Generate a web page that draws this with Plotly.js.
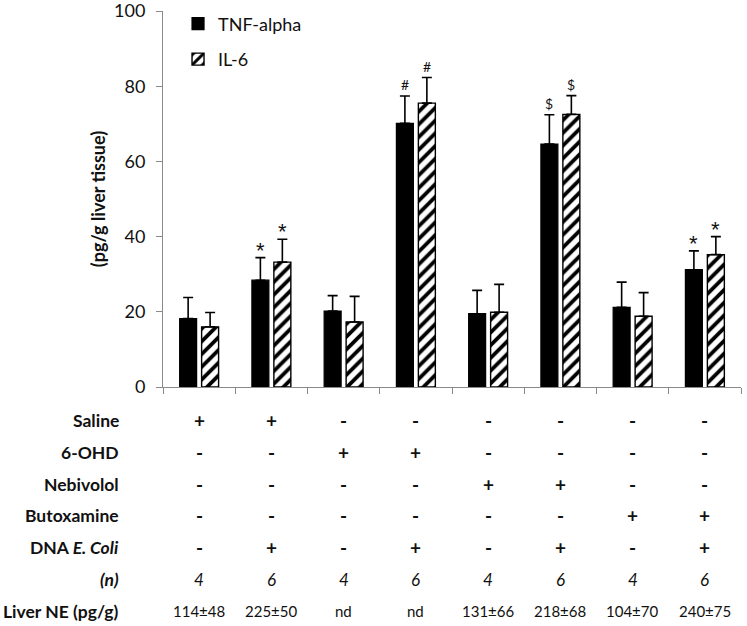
<!DOCTYPE html>
<html>
<head>
<meta charset="utf-8">
<script src="https://cdn.plot.ly/plotly-3.0.1.min.js"></script>
<style>html,body{margin:0;padding:0;background:#fff;}#chart{width:747px;height:626px;}</style>
</head>
<body>
<div id="chart"></div>
<script>
// ---- data ----
var groups = ['Saline', 'Saline + DNA', '6-OHD', '6-OHD + DNA', 'Nebivolol', 'Nebivolol + DNA', 'Butoxamine', 'Butoxamine + DNA'];
var tnfAlpha = [18.2, 28.4, 20.2, 70.1, 19.5, 64.6, 21.2, 31.2];
var tnfErr   = [5.6, 6.0, 4.1, 7.3, 6.2, 7.8, 6.7, 5.0];
var il6      = [16.0, 33.2, 17.3, 75.5, 19.9, 72.5, 18.8, 35.2];
var il6Err   = [3.8, 6.1, 6.8, 6.8, 7.4, 5.0, 6.3, 4.8];
var tnfSig   = ['', '*', '', '#', '', '$', '', '*'];
var il6Sig   = ['', '*', '', '#', '', '$', '', '*'];

var rowLabels = ['Saline', '6-OHD', 'Nebivolol', 'Butoxamine', 'DNA <i>E. Coli</i>', '<i>(n)</i>', 'Liver NE (pg/g)'];
var saline     = ['+', '+', '-', '-', '-', '-', '-', '-'];
var ohd        = ['-', '-', '+', '+', '-', '-', '-', '-'];
var nebivolol  = ['-', '-', '-', '-', '+', '+', '-', '-'];
var butoxamine = ['-', '-', '-', '-', '-', '-', '+', '+'];
var dnaEColi   = ['-', '+', '-', '+', '-', '+', '-', '+'];
var nValues    = ['4', '6', '4', '6', '4', '6', '4', '6'];
var liverNE    = ['114±48', '225±50', 'nd', 'nd', '131±66', '218±68', '104±70', '240±75'];

// ---- layout helpers ----
var FONT = 'Lato, "Open Sans", sans-serif';
var INK = '#111';
var zeros = groups.map(function(){ return 0; });

var traces = [
  {
    type: 'bar', name: 'TNF-alpha', x: groups, y: tnfAlpha, legendgroup: 'a',
    marker: {color: '#000', line: {color: '#000', width: 1.2}},
    error_y: {type: 'data', symmetric: false, array: tnfErr, arrayminus: zeros, color: '#000', thickness: 1.6, width: 5}
  },
  {
    type: 'bar', name: 'IL-6', x: groups, y: il6, legendgroup: 'b',
    marker: {color: '#fff', line: {color: '#000', width: 1.4},
             pattern: {shape: '/', fgcolor: '#000', bgcolor: '#fff', size: 9, solidity: 0.42}},
    error_y: {type: 'data', symmetric: false, array: il6Err, arrayminus: zeros, color: '#000', thickness: 1.6, width: 5}
  }
];

var annotations = [];
var offsetPx = 11;
groups.forEach(function(g, i){
  [[tnfSig, tnfAlpha, tnfErr, -offsetPx], [il6Sig, il6, il6Err, offsetPx]].forEach(function(s){
    var t = s[0][i];
    if (!t) return;
    var isStar = (t === '*');
    annotations.push({
      x: g, y: s[1][i] + s[2][i], xref: 'x', yref: 'y', xshift: s[3], yshift: isStar ? -7 : 1,
      text: t, showarrow: false, xanchor: 'center', yanchor: 'bottom',
      font: {family: isStar ? '"Liberation Sans", Arial, sans-serif' : FONT, size: isStar ? 22 : 14, color: INK}
    });
  });
});

var rows = [saline, ohd, nebivolol, butoxamine, dnaEColi, nValues, liverNE];
var rowStart = -0.0894, rowStep = 0.0845;
rows.forEach(function(r, k){
  var yv = rowStart - k * rowStep;
  annotations.push({
    x: -0.0727, y: yv, xref: 'paper', yref: 'paper', xanchor: 'right', yanchor: 'middle',
    text: '<b>' + rowLabels[k] + '</b>', showarrow: false,
    font: {family: FONT, size: 17.5, color: INK}
  });
  r.forEach(function(v, i){
    var txt, sz;
    if (k < 5) { txt = '<b>' + v + '</b>'; sz = 19; }
    else if (k === 5) { txt = '<i>' + v + '</i>'; sz = 17; }
    else { txt = v; sz = 15; }
    annotations.push({
      x: groups[i], y: yv, xref: 'x', yref: 'paper', xanchor: 'center', yanchor: 'middle',
      text: txt, showarrow: false, font: {family: FONT, size: sz, color: INK}
    });
  });
});

var layout = {
  width: 747, height: 626,
  margin: {l: 163, r: 6, t: 10, b: 239},
  paper_bgcolor: '#fff', plot_bgcolor: '#fff',
  font: {family: FONT, color: INK},
  barmode: 'group', bargap: 0.392, bargroupgap: 0.227,
  showlegend: true,
  legend: {x: 0.026, y: 1.012, xanchor: 'left', yanchor: 'top',
           traceorder: 'grouped', tracegroupgap: 9,
           font: {family: FONT, size: 18, color: INK}, bgcolor: 'rgba(0,0,0,0)'},
  xaxis: {
    type: 'category', range: [-0.5, 7.5], showticklabels: false,
    showline: true, linecolor: '#8a8a8a', linewidth: 1,
    ticks: 'outside', tickson: 'boundaries', ticklen: 6, tickcolor: '#8a8a8a',
    showgrid: false, zeroline: false, fixedrange: true
  },
  yaxis: {
    range: [0, 100], dtick: 20, tick0: 0,
    showline: true, linecolor: '#8a8a8a', linewidth: 1,
    ticks: 'outside', ticklen: 6, tickcolor: '#8a8a8a', ticklabelstandoff: 7,
    ticklabeloverflow: 'allow',
    tickfont: {family: FONT, size: 18, color: INK},
    showgrid: false, zeroline: false,
    title: {text: '<b>(pg/g liver tissue)</b>', font: {family: FONT, size: 18, color: INK}, standoff: 3}
  },
  annotations: annotations
};

Plotly.newPlot('chart', traces, layout, {displayModeBar: false, staticPlot: true});
</script>
</body>
</html>
